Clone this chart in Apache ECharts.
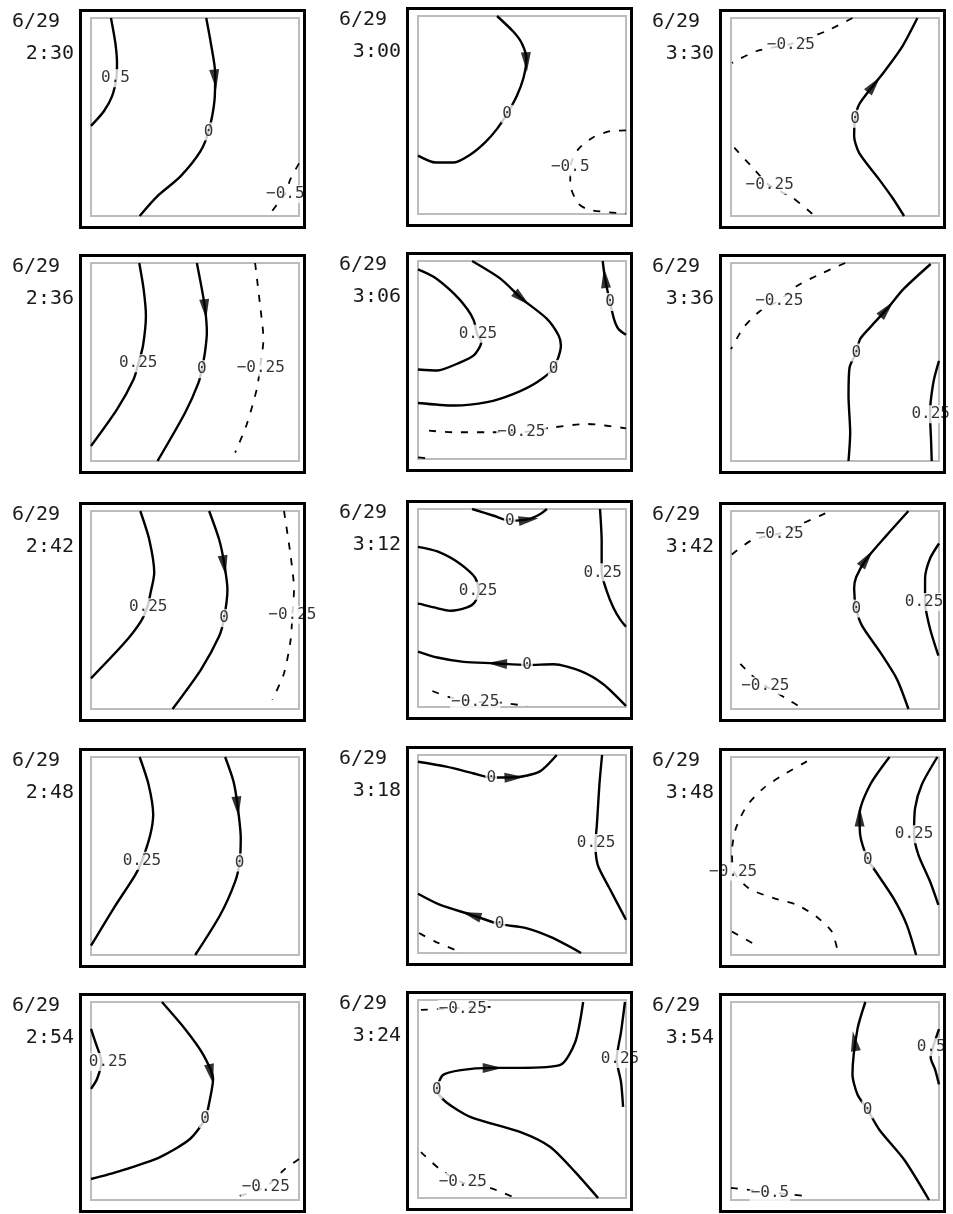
<!DOCTYPE html>
<html>
<head>
<meta charset="utf-8">
<script src="https://cdn.jsdelivr.net/npm/echarts@6/dist/echarts.min.js"></script>
<style>
  html, body { margin: 0; padding: 0; background: #fff; }
  #chart { width: 953px; height: 1214px; }
</style>
</head>
<body>
<div id="chart"></div>
<script>
// Date shown above every panel time
const dateLabel = '6/29';
// Panel times, in reading order down each column
const times = ['2:30', '2:36', '2:42', '2:48', '2:54',
               '3:00', '3:06', '3:12', '3:18', '3:24',
               '3:30', '3:36', '3:42', '3:48', '3:54'];

// Contours of each panel, in the panel's 0–100 frame (x right, y up).
// level: contour value; pts: the traced line; label: where the value is written;
// arrow: optional flow arrow [x, y, dx, dy].
const c0230 = [
  { level: 0.5, pts: [[9.6,100],[11.7,87.4],[12.5,77.2],[12.2,69.6],[10.1,60.4],[6.1,52.8],[0,45.5]], label: [11.7,69.6] },
  { level: 0, pts: [[55.4,100],[57.6,87.4],[59.7,72.2],[59.4,58.7],[56.5,42.7],[52.5,32.5],[42.9,19.9],[31.7,9.8],[23.4,0]], label: [56.5,42.7], arrow: [59.7,69,0.1,-1] },
  { level: -0.5, pts: [[100,26.6],[95.7,18.2],[93.6,11.5],[89.3,5.6],[85.3,0]], label: [93.4,11.1] }
];
const c0236 = [
  { level: 0.25, pts: [[23.2,100],[25.3,86.8],[26.4,73.4],[25,58.2],[22.9,49.7],[20.5,41.3],[12.5,26.1],[0,7.6]], label: [22.7,49.4] },
  { level: 0, pts: [[50.9,100],[53.3,86.8],[54.9,76.7],[55.7,64.9],[54.8,55],[53.3,46.4],[51.7,39.6],[45.3,24.5],[32,0]], label: [53.3,46.4], arrow: [54.9,76.7,0.1,-1] },
  { level: -0.25, pts: [[78.9,100],[81.3,78.6],[82.9,61.6],[81.3,47.2],[79.7,36.3],[74.9,18.6],[69.3,4.2]], label: [81.6,47.2] }
];
const c0242 = [
  { level: 0.25, pts: [[23.7,100],[28,85.6],[30.4,68.8],[28.5,58],[27.2,51.9],[24,44.3],[16,33.3],[0,15.5]], label: [27.5,51.4] },
  { level: 0, pts: [[56.8,100],[61.6,85.6],[64,73.8],[65.6,60.3],[64,45.9],[61.6,36.7],[52.8,19.8],[39.2,0]], label: [64,45.9], arrow: [64,72.5,0.15,-1] },
  { level: -0.25, pts: [[92.8,100],[96,77.2],[97.6,60.3],[96.8,47.6],[96,35],[92.8,18.1],[87.2,4.6]], label: [96.8,47.6] }
];
const c0248 = [
  { level: 0.25, pts: [[23.4,100],[27.7,86],[29.9,70.8],[28.5,60.7],[24.5,47.6],[21.3,40.5],[10.9,23.6],[0,4.7]], label: [24.5,47.6] },
  { level: 0, pts: [[64.5,100],[68.5,87.7],[70.4,75.9],[72,59],[71.4,46.7],[69.3,37.1],[62.1,20.2],[50.1,0]], label: [71.4,46.7], arrow: [70.4,75,0.1,-1] }
];
const c0254 = [
  { level: 0.25, pts: [[0,86.4],[2.4,78.8],[5,70],[2.9,61.1],[0,56.1]], label: [8.2,69.7] },
  { level: 0, pts: [[34.1,100],[45.2,86.4],[53.8,73.7],[58.7,61.1],[57.2,51],[54.8,40.9],[47.6,30.8],[33.2,21.7],[13.9,14.6],[0,10.6]], label: [54.8,40.9], arrow: [57.7,63.6,0.2,-1] },
  { level: -0.25, pts: [[100,20.7],[93.3,15.7],[84,6.6],[69.2,1.5]], label: [84,6.6] }
];
const c0300 = [
  { level: 0, pts: [[38,100],[46,91.9],[50,86],[52.1,78.4],[50.8,69.1],[47.6,59.9],[42.8,50.6],[38,43],[32.4,36.3],[25.2,30],[17.3,26],[8.5,26],[0,29.5]], label: [42.8,50.6], arrow: [52.1,76.7,0.05,-1] },
  { level: -0.5, pts: [[100,42.2],[92.3,41.8],[84.3,38.8],[77.2,32.9],[73.5,25],[73.2,15],[77.2,5.1],[82.7,2],[100,0.2]], label: [73.2,23.6] }
];
const c0306 = [
  { level: 0.25, pts: [[0,95.8],[7.7,91.9],[17.3,83.5],[23.6,75.9],[26.8,70],[28.4,63.2],[30.4,59],[26.8,52.3],[18.8,48.1],[9.3,44.7],[0,45.2]], label: [28.8,63.2] },
  { level: 0, pts: [[26,100],[39.6,91.1],[50,80.9],[62,70.8],[67.6,62.4],[68.7,57.3],[65.2,45.9],[57.2,38.8],[46,32.9],[33.2,28.7],[17.3,27],[0,28.3]], label: [65.2,45.5], arrow: [50,80.9,0.74,-0.67] },
  { level: 0, pts: [[88.8,100],[89.9,91.1],[92.3,79.3],[94.2,70.8],[96.3,65.8],[100,62.7]], label: [92.3,79.3], arrow: [89.9,91.4,-0.1,1] },
  { level: -0.25, pts: [[5.3,14.3],[17.3,13.5],[33,13.5],[49.2,13.5],[65.2,16],[81.2,17.7],[100,15.5]], label: [49.7,13.5] },
  { level: -0.5, pts: [[0,0.8],[5.3,0.3]] }
];
const c0312 = [
  { level: 0, pts: [[26,100],[36.4,96.6],[44.1,94.1],[53.2,94.9],[58.8,97.5],[62,100]], label: [44.1,94.1], arrow: [53.2,94.6,1,0.15] },
  { level: 0.25, pts: [[0,80.9],[9.3,78.6],[18.1,73.9],[24.4,68.8],[27.6,65.1],[29.2,58.7],[27.2,52.8],[23.6,50.3],[15.7,48.6],[7.7,50.3],[0,52.3]], label: [28.9,58.7] },
  { level: 0.25, pts: [[87.5,100],[88.3,83.8],[88.3,68],[90.7,58.7],[93.9,50.3],[97.1,44.4],[100,40.5]], label: [88.8,68] },
  { level: 0, pts: [[0,28],[9.3,25],[22,22.8],[36.4,22.1],[52.4,21.2],[65.2,21.6],[78,18.2],[89.1,11.5],[100,0.5]], label: [52.4,21.2], arrow: [38,22,-1,0.05] },
  { level: -0.25, pts: [[6.9,8.1],[15,5],[27.6,2.7],[39.6,2.2],[52.4,0.5]], label: [27.5,2.7] }
];
const c0318 = [
  { level: 0, pts: [[0,96.6],[13.6,94.1],[26.4,90.8],[35.2,88.6],[46.4,88.7],[58.4,91.6],[66.7,100]], label: [35.2,88.6], arrow: [46.4,88.7,1,0.05] },
  { level: 0.25, pts: [[88.5,100],[87.2,84.9],[86,64.7],[85.3,55.5],[86.4,44.5],[92,32.8],[100,16.8]], label: [85.6,55.5] },
  { level: 0, pts: [[0,29.9],[10.4,24.4],[25.6,19.3],[39.2,14.6],[52,12.6],[64.8,7.6],[78.4,0]], label: [39.2,14.6], arrow: [25.6,19.3,-0.95,0.3] },
  { level: -0.25, pts: [[0.5,10.1],[8,5.9],[21.6,0]] }
];
const c0324 = [
  { level: -0.25, pts: [[1.4,95],[20,96],[34.9,96.5]], label: [21.5,95.5] },
  { level: 0.25, pts: [[99.5,99],[97.6,83.8],[95.5,70],[97.6,58.6],[98.6,46]], label: [97.1,70.2] },
  { level: 0, pts: [[79.4,99],[75.6,78.8],[68.4,67.2],[49.3,65.7],[34.9,65.7],[20.6,64.6],[12,62.1],[9.1,54.5],[13.4,48.5],[25.4,40.9],[49.3,33.3],[63.6,25.8],[75.6,13.1],[86.6,0]], label: [9.1,54.5], arrow: [35.9,65.7,1,0] },
  { level: -0.25, pts: [[1.4,23.2],[10,15],[20.6,8.1],[34.9,5],[46.9,0]], label: [21.5,8.1] }
];
const c0330 = [
  { level: -0.25, pts: [[58.4,100],[45.6,93.3],[28.8,86.9],[12,83.2],[0.5,77.3]], label: [28.8,86.5] },
  { level: -0.25, pts: [[1.6,34.5],[11.2,23.5],[18.4,15.5],[29.6,9.2],[40,0.3]], label: [18.6,15.5] },
  { level: 0, pts: [[89.6,100],[82.4,85.7],[74.4,73.9],[68.8,66.4],[61.6,56.3],[59.7,49.1],[59.2,40.3],[61.6,31.9],[71.2,18.5],[77.6,9.2],[83.2,0]], label: [59.7,49.1], arrow: [68.8,66.4,0.6,0.8] }
];
const c0336 = [
  { level: -0.25, pts: [[54.9,100],[42.9,94.4],[31.7,88.4],[22.9,80.9],[14.1,75.9],[6.1,67.5],[0,56.5]], label: [23.2,80.9] },
  { level: 0, pts: [[96,99.5],[82.9,86.8],[74.9,76.7],[66.9,67.5],[62.1,61.6],[60.2,54.8],[57,47.2],[56.5,32.9],[57.3,14.3],[56.5,0]], label: [60.2,54.8], arrow: [74.9,76.7,0.64,0.77] },
  { level: 0.25, pts: [[100,50.6],[97.6,41.3],[96,30],[95.7,23.6],[96.2,10],[96.5,0]], label: [96,23.6] }
];
const c0342 = [
  { level: -0.25, pts: [[45.3,98.8],[35,94],[23.4,88.7],[10.1,85.3],[0,77.7]], label: [23.4,88.7] },
  { level: 0, pts: [[85.3,100],[74.9,87.8],[65.3,76],[60.2,66.7],[59.2,60.8],[60.2,50.7],[62.9,42.2],[71.7,28.7],[79.7,15.2],[85.3,0]], label: [60.2,50.7], arrow: [65.3,76,0.57,0.82] },
  { level: 0.25, pts: [[100,83.6],[95.7,76],[93.3,65.9],[93.3,54.1],[95.7,40.5],[99.7,27]], label: [92.8,54] },
  { level: -0.25, pts: [[4.5,22.8],[10,17],[16.5,11.8],[26.9,5.1],[34.9,0]], label: [16.5,11.8] }
];
const c0348 = [
  { level: 0, pts: [[76.2,100],[66.9,86],[61.8,70.8],[62.1,60.7],[65.8,48.1],[68.5,43.8],[78.1,28.7],[84.5,15.2],[89,0]], label: [65.8,48.1], arrow: [61.8,70,0,1] },
  { level: 0.25, pts: [[99.2,100],[91.7,86],[88.5,74.2],[88,61],[90.1,50.6],[95.7,37.1],[99.7,25.3]], label: [88,61] },
  { level: -0.25, pts: [[36.5,97.8],[25.3,91.1],[15.7,84.3],[7.4,75],[2.1,63.2],[0.5,52.3],[1.3,42.2],[8.5,33.7],[20.5,28.7],[31.7,25.3],[41,19.4],[48.5,11.8],[51.7,0]], label: [1,42.2] },
  { level: -0.25, pts: [[0.5,11.8],[13.3,4.2]] }
];
const c0354 = [
  { level: 0, pts: [[64.6,100],[60.8,86.3],[58.4,63.5],[60.8,53.3],[65.6,45.7],[71.3,35.5],[83.3,20.3],[95.2,0]], label: [65.6,45.7], arrow: [59.3,80.2,-0.15,1] },
  { level: 0.5, pts: [[100,86.3],[97.6,78.7],[96,72],[98.1,66],[100,58.4]], label: [96.2,77.2] },
  { level: -0.5, pts: [[0,6.1],[18,4],[35.4,2]], label: [18.7,3.6] }
];

const panels = [c0230, c0236, c0242, c0248, c0254,
                c0300, c0306, c0312, c0318, c0324,
                c0330, c0336, c0342, c0348, c0354];

// ---- layout (pixels) ----
const colLeft = [79, 406, 719];
const colShift = [0, -2, 0];
const rowTop = [9, 254, 502, 748, 993];
const outerW = 227, outerH = 220;
const innerDX = 12, innerDY = 9, innerW = 208, innerH = 198;

const monoFont = '"DejaVu Sans Mono", "Liberation Mono", monospace';

function levelText(v) {
  if (v === 0) return '0';
  return (v < 0 ? '\u2212' : '') + String(Math.abs(v));
}

const grids = [], xAxes = [], yAxes = [], series = [], graphics = [];

panels.forEach((contours, i) => {
  const col = Math.floor(i / 5), row = i % 5;
  const oL = colLeft[col];
  const oT = rowTop[row] + colShift[col];

  grids.push({
    left: oL + innerDX, top: oT + innerDY, width: innerW, height: innerH,
    show: true, borderColor: '#bcbcbc', borderWidth: 2, backgroundColor: 'transparent'
  });
  xAxes.push({ type: 'value', gridIndex: i, min: 0, max: 100, show: false });
  yAxes.push({ type: 'value', gridIndex: i, min: 0, max: 100, show: false });

  // panel frame and titles
  graphics.push({
    type: 'rect', z: 10,
    shape: { x: oL + 1.5, y: oT + 1.5, width: outerW - 3, height: outerH - 3 },
    style: { fill: 'none', stroke: '#000', lineWidth: 3 }
  });
  graphics.push({
    type: 'text', z: 10, x: oL - 67, y: oT + 13,
    style: { text: dateLabel, font: '20px ' + monoFont, fill: '#1a1a1a',
             align: 'left', verticalAlign: 'middle', textAlign: 'left', textVerticalAlign: 'middle' }
  });
  graphics.push({
    type: 'text', z: 10, x: oL - 5, y: oT + 45,
    style: { text: times[i], font: '20px ' + monoFont, fill: '#1a1a1a',
             align: 'right', verticalAlign: 'middle', textAlign: 'right', textVerticalAlign: 'middle' }
  });

  const labels = [], arrows = [];
  contours.forEach(c => {
    const neg = c.level < 0;
    series.push({
      type: 'line', xAxisIndex: i, yAxisIndex: i,
      data: c.pts, showSymbol: false, symbol: 'none', smooth: 0.25,
      clip: false, silent: true, z: 2,
      lineStyle: { color: '#000', width: neg ? 1.8 : 2.4, type: neg ? [7, 9] : 'solid' }
    });
    if (c.label) labels.push({ name: levelText(c.level), value: c.label });
    if (c.arrow) {
      const [ax, ay, dx, dy] = c.arrow;
      const sx = dx * innerW / 100, sy = dy * innerH / 100;
      const rot = Math.atan2(-sx, sy) * 180 / Math.PI;
      arrows.push({ value: [ax, ay], symbolRotate: rot });
    }
  });

  series.push({
    type: 'scatter', xAxisIndex: i, yAxisIndex: i, data: arrows,
    symbol: 'triangle', symbolSize: [10, 20], clip: false, silent: true, z: 4,
    itemStyle: { color: '#000' }
  });
  series.push({
    type: 'scatter', xAxisIndex: i, yAxisIndex: i, data: labels,
    symbol: 'rect', symbolSize: 1, clip: false, silent: true, z: 6,
    itemStyle: { color: 'rgba(0,0,0,0)' },
    label: {
      show: true, position: 'inside', formatter: '{b}',
      fontFamily: monoFont, fontSize: 16, color: '#000',
      backgroundColor: '#fff', padding: [1, 1]
    }
  });
});

const chart = echarts.init(document.getElementById('chart'), null, { renderer: 'canvas' });
chart.setOption({
  animation: false,
  backgroundColor: '#fff',
  grid: grids,
  xAxis: xAxes,
  yAxis: yAxes,
  series: series,
  graphic: graphics
});
</script>
</body>
</html>
